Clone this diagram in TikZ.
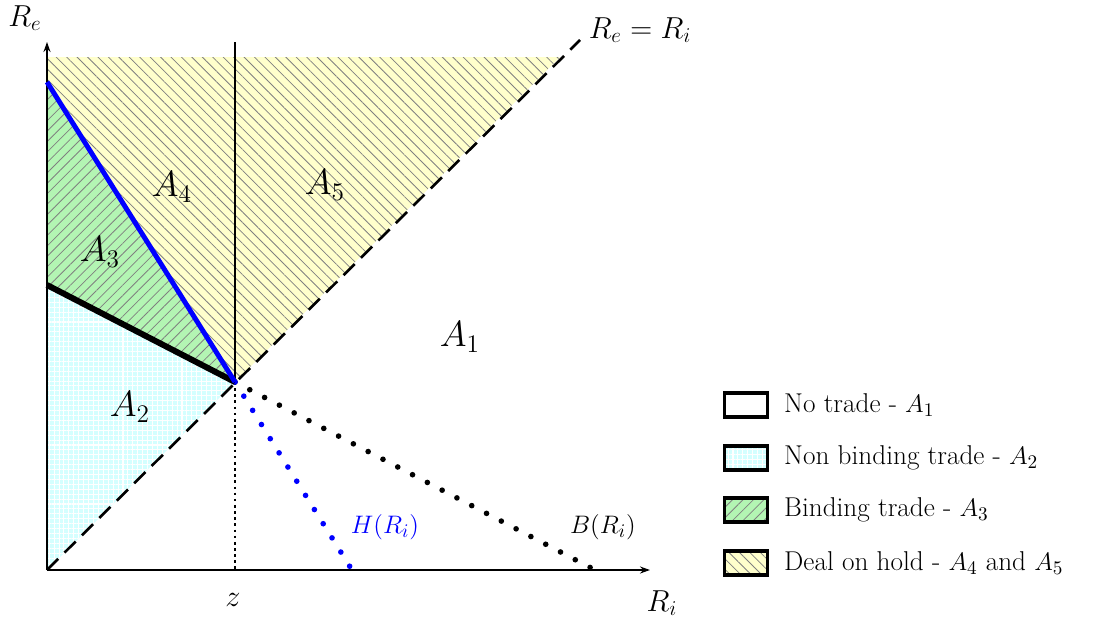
\documentclass[tikz,border=0pt]{standalone}
\usepackage{amsmath,amssymb}
\usetikzlibrary{arrows.meta,patterns.meta,calc}
\definecolor{holdFill}{HTML}{FFFFCC}
\definecolor{bindFill}{HTML}{B3F5B3}
\definecolor{freeFill}{HTML}{D4FFFF}
\definecolor{hatch}{HTML}{808080}
\tikzset{
    >={Stealth[length=2mm,width=1.4mm]},
    axis/.style={line width=1.1pt, ->},
    diag/.style={line width=1.5pt, dash pattern=on 9pt off 5pt},
    bline/.style={line width=3.4pt},
    hline/.style={blue, line width=2.8pt},
    bdots/.style={line width=3.2pt, line cap=round, dash pattern=on 0pt off 9.5pt},
    hdots/.style={blue, line width=3.2pt, line cap=round, dash pattern=on 0pt off 9.5pt},
    zline/.style={line width=1pt, dash pattern=on 1.5pt off 2pt},
    holdarea/.style={preaction={fill=holdFill},
        pattern={Lines[angle=-45,distance=4.2pt,line width=0.45pt]}, pattern color=hatch},
    bindarea/.style={preaction={fill=bindFill},
        pattern={Lines[angle=45,distance=4.2pt,line width=0.45pt]}, pattern color=hatch},
    freearea/.style={preaction={fill=freeFill},
        pattern={Hatch[angle=0,distance=2.8pt,line width=0.6pt]}, pattern color=white},
    region/.style={font=\fontsize{22}{26}\selectfont},
    axislabel/.style={font=\LARGE},
    curvelabel/.style={font=\fontsize{15.5}{18}\selectfont},
    legbox/.style={draw, line width=2pt, minimum width=0.86cm, minimum height=0.48cm, inner sep=0pt},
    legtext/.style={font=\fontsize{15.5}{18}\selectfont, anchor=west},
}
\begin{document}
\begin{tikzpicture}[x=0.02cm,y=0.02cm]
\useasboundingbox (0,0) rectangle (1095,627);

% ---------------------------------------------------------------------------
% Key points
% ---------------------------------------------------------------------------
\coordinate (O) at (47,57);
\coordinate (P) at (235,245);
\coordinate (yTop) at (47,585);
\coordinate (xEnd) at (650,57);
\coordinate (dEnd) at (580,587);
\coordinate (zTop) at (235,585);
\coordinate (zBot) at (235,57);
\coordinate (hStart) at (47,545);
\coordinate (hEnd) at (352,57);
\coordinate (bStart) at (47,342);
\coordinate (bEnd) at (595,57);
\coordinate (cTop) at (47,570);
\coordinate (cDiag) at (560,570);

% ---------------------------------------------------------------------------
% Regions
% ---------------------------------------------------------------------------
\path[holdarea] (hStart) -- (cTop) -- (cDiag) -- (P) -- cycle;
\path[bindarea] (hStart) -- (P) -- (bStart) -- cycle;
\path[freearea] (bStart) -- (P) -- (O) -- cycle;

% ---------------------------------------------------------------------------
% Axes and curves
% ---------------------------------------------------------------------------
\draw[axis] (O) -- (yTop);
\draw[axis] (O) -- (xEnd);
\draw[diag] (O) -- (dEnd);
\draw[line width=1.3pt] (P) -- (zTop);
\draw[zline] (P) -- (zBot);
\draw[bdots] (P) -- (bEnd);
\draw[hdots] (P) -- (hEnd);
\draw[bline] (bStart) -- (P);
\draw[hline] (hStart) -- (P);

% Labels
\node[axislabel] (lRe) at (25,609) {$R_e$};
\node[axislabel] (lRi) at (662,24) {$R_i$};
\node[axislabel] (lDiag) at (640,597) {$R_e=R_i$};
\node[axislabel] (lz) at (233,27) {$z$};
\node[curvelabel, blue] (lH) at (385,100) {$H(R_i)$};
\node[curvelabel] (lB) at (603,100) {$B(R_i)$};

\node[region] (a1) at (460,290) {$A_1$};
\node[region] (a2) at (130,220) {$A_2$};
\node[region] (a3) at (100,375) {$A_3$};
\node[region] (a4) at (172,440) {$A_4$};
\node[region] (a5) at (325,442) {$A_5$};

% ---------------------------------------------------------------------------
% Legend
% ---------------------------------------------------------------------------
\node[legbox, fill=white] (k1) at (746,222) {};
\node[legbox, freearea] (k2) at (746,169) {};
\node[legbox, bindarea] (k3) at (746,117) {};
\node[legbox, holdarea] (k4) at (746,64) {};
\node[legtext] (t1) at (778,222) {No trade - $A_1$};
\node[legtext] (t2) at (778,169) {Non binding trade - $A_2$};
\node[legtext] (t3) at (778,117) {Binding trade - $A_3$};
\node[legtext] (t4) at (778,64) {Deal on hold - $A_4$ and $A_5$};

\end{tikzpicture}
\end{document}
